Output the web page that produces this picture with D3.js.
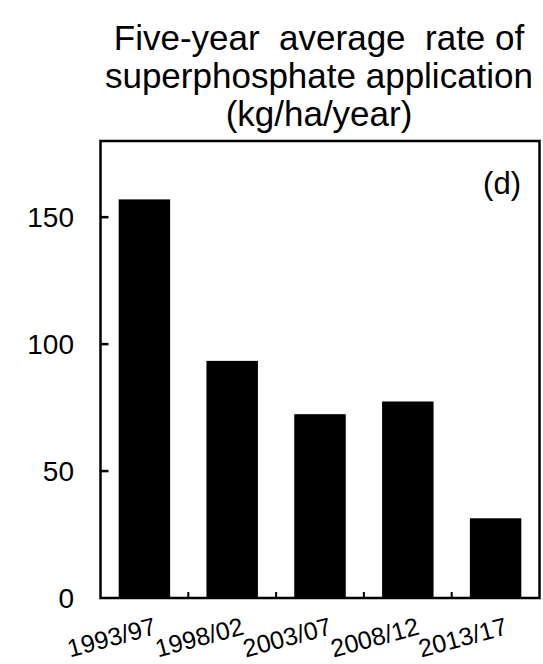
<!DOCTYPE html>
<html>
<head>
<meta charset="utf-8">
<script src="https://cdn.jsdelivr.net/npm/d3@7/dist/d3.min.js"></script>
<style>
  html, body { margin: 0; padding: 0; background: #fff; }
  svg { display: block; font-family: Arial, "Liberation Sans", sans-serif; }
</style>
</head>
<body>
<svg id="chart" width="543" height="664"></svg>
<script>
const categories = ["1993/97", "1998/02", "2003/07", "2008/12", "2013/17"];
const values = [157, 93.4, 72.4, 77.4, 31.4];
const yTicks = [0, 50, 100, 150];
const titleLines = ["Five-year  average  rate of", "superphosphate application", "(kg/ha/year)"];
const panelLabel = "(d)";

(function () {
const svg = d3.select("#chart");
const pL = 100.5, pR = 539.5, pT = 141, pB = 598;

const x = d3.scaleBand().domain(categories).range([pL, pR])
  .paddingInner(0.414).paddingOuter(0.207);
const y = d3.scaleLinear().domain([0, 180]).range([pB, pT]);

// bars
svg.append("g").selectAll("rect").data(values).join("rect")
  .attr("x", (d, i) => x(categories[i]))
  .attr("y", d => y(d))
  .attr("width", x.bandwidth())
  .attr("height", d => y(0) - y(d))
  .attr("fill", "#000");

// frame
svg.append("rect")
  .attr("x", pL).attr("y", pT)
  .attr("width", pR - pL).attr("height", pB - pT)
  .attr("fill", "none").attr("stroke", "#000").attr("stroke-width", 2.5);

// y axis ticks (inward) and labels
const yg = svg.append("g");
yg.selectAll("line").data(yTicks.filter(d => d > 0)).join("line")
  .attr("x1", pL).attr("x2", pL + 8)
  .attr("y1", d => y(d)).attr("y2", d => y(d))
  .attr("stroke", "#000").attr("stroke-width", 2.5);
yg.selectAll("text").data(yTicks).join("text")
  .attr("x", 74).attr("y", d => y(d)).attr("dy", "0.36em")
  .attr("text-anchor", "end").attr("font-size", 28).attr("fill", "#000")
  .text(d => d);

// x axis ticks at category boundaries (inward)
const bounds = categories.slice(1).map(c => x(c) - (x.step() - x.bandwidth()) / 2);
svg.append("g").selectAll("line").data(bounds).join("line")
  .attr("x1", d => d).attr("x2", d => d)
  .attr("y1", pB).attr("y2", pB - 6)
  .attr("stroke", "#000").attr("stroke-width", 2);

// x labels rotated
svg.append("g").selectAll("text").data(categories).join("text")
  .attr("transform", c => `translate(${x(c) + x.bandwidth() / 2 + 13},634) rotate(-15)`)
  .attr("text-anchor", "end").attr("font-size", 25).attr("fill", "#000")
  .text(c => c);

// title
svg.append("text")
  .attr("text-anchor", "middle").attr("font-size", 35).attr("fill", "#000")
  .style("white-space", "pre")
  .selectAll("tspan").data(titleLines).join("tspan")
  .attr("x", (pL + pR) / 2 - 1)
  .attr("y", (d, i) => 50 + i * 38)
  .text(d => d);

// panel label
svg.append("text")
  .attr("x", 521).attr("y", 194)
  .attr("text-anchor", "end").attr("font-size", 31).attr("fill", "#000")
  .text(panelLabel);
})();
</script>
</body>
</html>
